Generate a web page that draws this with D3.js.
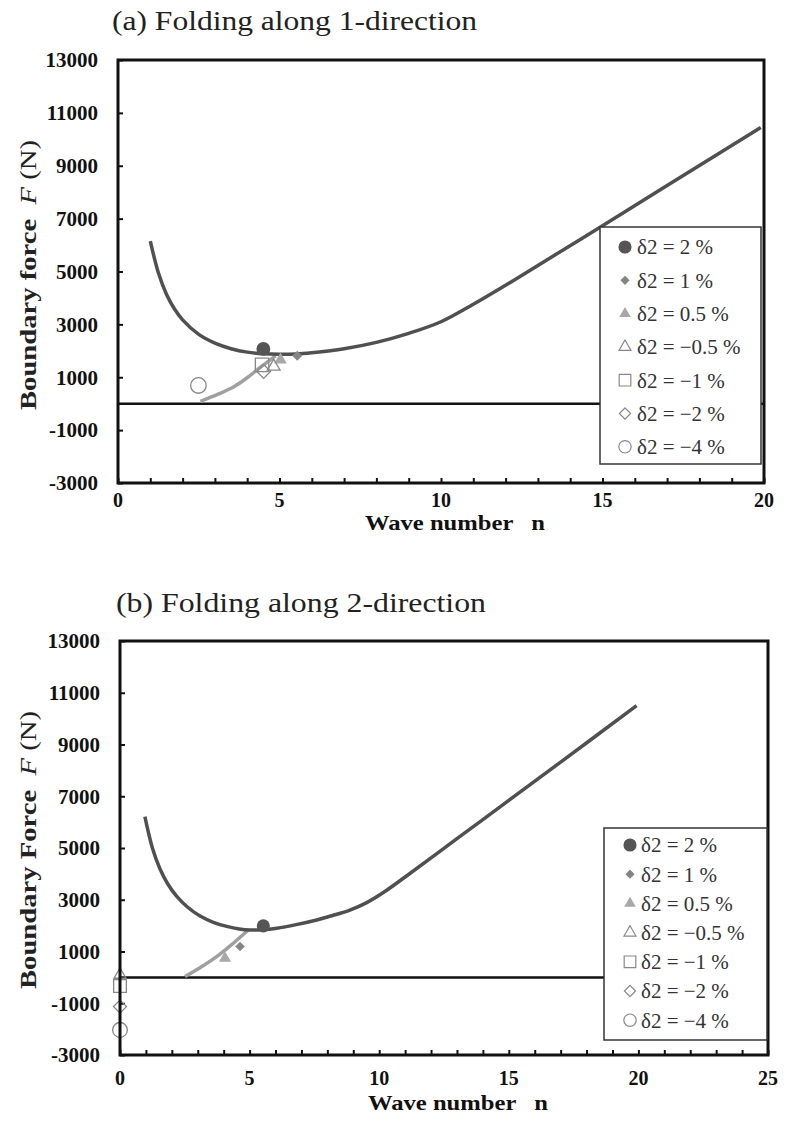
<!DOCTYPE html>
<html>
<head>
<meta charset="utf-8">
<script src="https://cdn.jsdelivr.net/npm/d3@7"></script>
<style>
  body { margin: 0; background: #fff; }
  svg { display: block; }
  text { font-family: "Liberation Serif", "Times New Roman", serif; }
</style>
</head>
<body>
<div id="container"></div>
<script>
let w = 785;
let h = 1128;

// ---- data ----
let yTicks = [-3000, -1000, 1000, 3000, 5000, 7000, 9000, 11000, 13000];
let xTicksA = [0, 5, 10, 15, 20];
let xTicksB = [0, 5, 10, 15, 20, 25];

let legendLabels = ["δ2 = 2 %", "δ2 = 1 %", "δ2 = 0.5 %", "δ2 = −0.5 %", "δ2 = −1 %", "δ2 = −2 %", "δ2 = −4 %"];

// dark curve (wave number n, force F)
let curveA = [[1.0, 6150], [1.25, 4950], [1.5, 4140], [1.75, 3580], [2.0, 3170], [2.5, 2620], [3.0, 2290],
  [3.5, 2080], [4.0, 1950], [4.5, 1890], [5.0, 1870], [5.5, 1880], [6.0, 1930], [7.0, 2080], [8.0, 2320],
  [9.0, 2660], [10, 3100], [11, 3760], [12, 4480], [13, 5230], [15, 6730], [17, 8250], [19.9, 10450]];
// light curve
let branchA = [[2.55, 90], [3.1, 360], [3.6, 650], [4.0, 980], [4.4, 1370], [4.88, 1810]];
// marker points, same order as legendLabels
let pointsA = [[4.5, 2070], [5.55, 1810], [5.03, 1660], [4.82, 1410], [4.46, 1470], [4.51, 1220], [2.49, 690]];

let curveB = [[0.96, 6210], [1.25, 5000], [1.54, 4200], [1.85, 3600], [2.19, 3130], [2.6, 2720], [3.09, 2370],
  [3.6, 2130], [4.12, 1970], [4.6, 1870], [5.02, 1830], [5.5, 1840], [6.05, 1900], [6.8, 2040], [7.59, 2220],
  [8.2, 2390], [8.87, 2600], [9.5, 2880], [10.16, 3280], [11, 3880], [13, 5360], [15, 6840], [17, 8320], [19.93, 10500]];
let branchB = [[2.51, 30], [3.1, 380], [3.73, 800], [4.37, 1320], [4.95, 1830]];
let pointsB = [[5.53, 1990], [4.63, 1190], [4.05, 740], [0, 100], [0, -330], [0, -1130], [0, -2030]];

// ---- marker styles ----
let markerStyles = [
  {type: d3.symbolCircle, size: 150, leg: 135, rot: 0, fill: "#555", stroke: "none"},
  {type: d3.symbolSquare, size: 50, leg: 42, rot: 45, fill: "#858585", stroke: "none"},
  {type: d3.symbolTriangle, size: 70, leg: 58, rot: 0, fill: "#a8a8a8", stroke: "none"},
  {type: d3.symbolTriangle, size: 70, leg: 62, rot: 0, fill: "none", stroke: "#888"},
  {type: d3.symbolSquare, size: 180, leg: 135, rot: 0, fill: "none", stroke: "#888"},
  {type: d3.symbolSquare, size: 95, leg: 62, rot: 45, fill: "none", stroke: "#888"},
  {type: d3.symbolCircle, size: 190, leg: 120, rot: 0, fill: "none", stroke: "#888"}
];

let viz = d3.select("#container")
  .append("svg")
  .attr("width", w)
  .attr("height", h);

function drawPanel(p) {
  let g = viz.append("g");

  let xScale = d3.scaleLinear().domain(p.xDomain).range([p.left, p.right]);
  let yScale = d3.scaleLinear().domain([-3000, 13000]).range([p.bottom, p.top]);

  // title
  g.append("text")
    .text(p.title)
    .attr("x", p.titleX)
    .attr("y", p.titleY)
    .attr("font-size", 28)
    .attr("textLength", p.titleLen)
    .attr("lengthAdjust", "spacingAndGlyphs")
    .attr("fill", "#222");

  // inward ticks with axis generators
  let xAxis = d3.axisTop(xScale).tickValues(d3.range(p.xDomain[0], p.xDomain[1] + 1, 1))
    .tickSize(5).tickFormat("");
  g.append("g").attr("transform", "translate(0," + p.bottom + ")").call(xAxis)
    .call(a => a.select(".domain").remove())
    .selectAll("line").attr("stroke", "#111").attr("stroke-width", 2);

  let yAxis = d3.axisRight(yScale).tickValues(yTicks).tickSize(5).tickFormat("");
  g.append("g").attr("transform", "translate(" + p.left + ",0)").call(yAxis)
    .call(a => a.select(".domain").remove())
    .selectAll("line").attr("stroke", "#111").attr("stroke-width", 2);

  // tick labels
  g.selectAll(".ylab").data(yTicks).enter().append("text")
    .attr("class", "ylab")
    .text(d => d)
    .attr("x", p.left - 20)
    .attr("y", d => yScale(d))
    .attr("dy", "0.35em")
    .attr("text-anchor", "end")
    .attr("font-weight", "bold")
    .attr("font-size", 21)
    .attr("fill", "#111");

  g.selectAll(".xlab").data(p.xTicks).enter().append("text")
    .attr("class", "xlab")
    .text(d => d)
    .attr("x", d => xScale(d))
    .attr("y", p.bottom + p.xLabGap)
    .attr("dy", "0.35em")
    .attr("text-anchor", "middle")
    .attr("font-weight", "bold")
    .attr("font-size", 20)
    .attr("fill", "#111");

  // axis titles
  g.append("text")
    .text("Wave number   n")
    .attr("x", (p.left + p.right) / 2 + 14)
    .attr("y", p.bottom + p.xTitleGap)
    .attr("dy", "0.35em")
    .attr("text-anchor", "middle")
    .attr("font-weight", "bold")
    .attr("font-size", 21)
    .attr("textLength", 180)
    .attr("lengthAdjust", "spacingAndGlyphs")
    .style("white-space", "pre")
    .attr("fill", "#111");

  let yt = g.append("text")
    .attr("transform", "translate(" + p.yTitleX + "," + p.yTitleY + ") rotate(-90)")
    .attr("text-anchor", "middle")
    .attr("dy", "0.35em")
    .attr("font-weight", "bold")
    .attr("font-size", 23)
    .attr("textLength", p.yTitleLen)
    .attr("lengthAdjust", "spacingAndGlyphs")
    .style("white-space", "pre")
    .attr("fill", "#222");
  yt.append("tspan").text(p.yTitle + "  ");
  yt.append("tspan").text("F").attr("font-style", "italic").attr("font-weight", "normal");
  yt.append("tspan").text(" (N)").attr("font-weight", "normal");

  // zero line
  g.append("line")
    .attr("x1", p.left).attr("x2", p.right)
    .attr("y1", yScale(0)).attr("y2", yScale(0))
    .attr("stroke", "#111").attr("stroke-width", 2.5);

  // curves
  let line = d3.line()
    .x(d => xScale(d[0]))
    .y(d => yScale(d[1]))
    .curve(d3.curveCatmullRom.alpha(0.5));

  g.append("path").datum(p.branch)
    .attr("d", line)
    .attr("fill", "none").attr("stroke", "#a0a0a0").attr("stroke-width", 3.5);

  g.append("path").datum(p.curve)
    .attr("d", line)
    .attr("fill", "none").attr("stroke", "#505050").attr("stroke-width", 3.5);

  // markers
  g.selectAll(".pt").data(p.points).enter().append("path")
    .attr("class", "pt")
    .attr("d", (d, i) => d3.symbol().type(markerStyles[i].type).size(markerStyles[i].size * p.mScale)())
    .attr("transform", (d, i) => "translate(" + xScale(d[0]) + "," + yScale(d[1]) + ") rotate(" + markerStyles[i].rot + ")")
    .attr("fill", (d, i) => markerStyles[i].fill)
    .attr("stroke", (d, i) => markerStyles[i].stroke)
    .attr("stroke-width", 1.3);

  // frame
  g.append("rect")
    .attr("x", p.left).attr("y", p.top)
    .attr("width", p.right - p.left).attr("height", p.bottom - p.top)
    .attr("fill", "none").attr("stroke", "#111").attr("stroke-width", 3);

  // legend
  let lg = g.append("g");
  lg.append("rect")
    .attr("x", p.leg.x).attr("y", p.leg.y)
    .attr("width", p.leg.w).attr("height", p.leg.h)
    .attr("fill", "#fff").attr("stroke", "#333").attr("stroke-width", 1.5);

  let rows = lg.selectAll(".row").data(legendLabels).enter().append("g")
    .attr("class", "row")
    .attr("transform", (d, i) => "translate(" + p.leg.mx + "," + (p.leg.y0 + i * p.leg.dy) + ")");

  rows.append("path")
    .attr("d", (d, i) => d3.symbol().type(markerStyles[i].type).size(markerStyles[i].leg)())
    .attr("transform", (d, i) => "rotate(" + markerStyles[i].rot + ")")
    .attr("fill", (d, i) => markerStyles[i].fill)
    .attr("stroke", (d, i) => markerStyles[i].stroke)
    .attr("stroke-width", 1.2);

  rows.append("text")
    .text(d => d)
    .attr("x", p.leg.tx)
    .attr("dy", "0.35em")
    .attr("font-size", 21)
    .attr("fill", "#333");
}

drawPanel({
  title: "(a) Folding along 1-direction", titleX: 112, titleY: 30, titleLen: 365,
  left: 118, right: 764, top: 60, bottom: 483,
  xDomain: [0, 20], xTicks: xTicksA,
  xLabGap: 17, xTitleGap: 40,
  yTitle: "Boundary force", yTitleX: 28, yTitleY: 275, yTitleLen: 270,
  curve: curveA, branch: branchA, points: pointsA, mScale: 1,
  leg: {x: 600, y: 227, w: 161, h: 237, mx: 625, tx: 12, y0: 247, dy: 33.3}
});

drawPanel({
  title: "(b) Folding along 2-direction", titleX: 116, titleY: 612, titleLen: 370,
  left: 120, right: 768, top: 641, bottom: 1055,
  xDomain: [0, 25], xTicks: xTicksB,
  xLabGap: 23, xTitleGap: 48,
  yTitle: "Boundary Force", yTitleX: 28, yTitleY: 850, yTitleLen: 278,
  curve: curveB, branch: branchB, points: pointsB, mScale: 0.9,
  leg: {x: 604, y: 828, w: 163, h: 212, mx: 630, tx: 11, y0: 845, dy: 29.2}
});
</script>
</body>
</html>
